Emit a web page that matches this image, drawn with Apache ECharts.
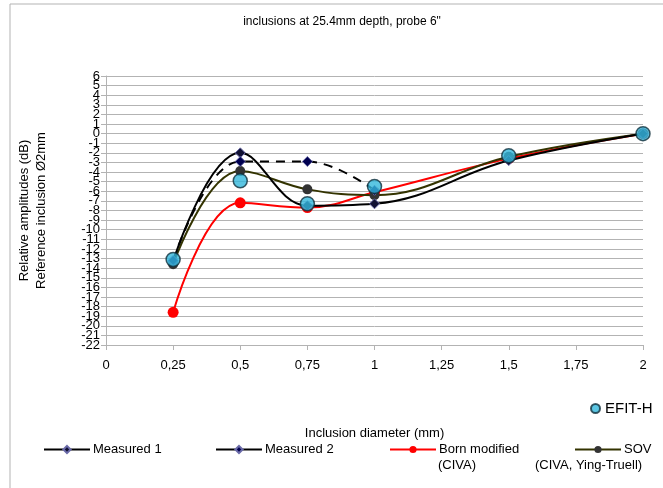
<!DOCTYPE html>
<html>

<head>
    <meta charset="utf-8">
    <script src="https://cdn.jsdelivr.net/npm/echarts@6/dist/echarts.min.js"></script>
</head>

<body style="margin:0">
    <div id="main" style="width: 663px;height:488px;"></div>

    <script type="text/javascript">
        // inclusion diameters (mm)
        var diam = [0.25, 0.5, 0.75, 1, 1.5, 2];
        var diamM2 = [0.25, 0.5, 0.75, 1];
        // relative amplitudes (dB)
        var measured1 = [-13.3, -2.0, -7.5, -7.3, -2.8, 0];
        var measured2 = [-13.2, -2.9, -2.9, -5.9];
        var bornModified = [-18.6, -7.2, -7.7, -6.1, -2.6, 0];
        var sov = [-13.6, -3.9, -5.8, -6.4, -2.4, 0];
        var efitH = [-13.1, -4.9, -7.3, -5.5, -2.3, 0];

        function pairs(xs, ys) {
            return xs.map(function (x, i) { return [x, ys[i]]; });
        }

        var font = 'Liberation Sans';
        var myChart = echarts.init(document.getElementById('main'));

        function legendAt(name, left) {
            return {
                data: [name],
                left: left,
                top: 438,
                itemWidth: 46,
                itemHeight: 9,
                lineStyle: { type: 'solid' },
                textStyle: { fontFamily: font, fontSize: 13, color: '#000', padding: [0, 0, 0, -2] }
            };
        }

        // labels every 1 dB overlap, so even and odd values go on two stacked axes
        function yLabels(even) {
            return function (v) {
                return (Math.abs(v) % 2 === 0) === even ? String(v) : '';
            };
        }

        var option = {
            backgroundColor: '#fff',
            animation: false,
            title: {
                text: 'inclusions at 25.4mm depth, probe 6"',
                left: 337,
                textAlign: 'center',
                top: 11,
                textStyle: { fontFamily: font, fontSize: 12, fontWeight: 'normal', color: '#000' }
            },
            graphic: [
                { type: 'rect', shape: { x: 10, y: 4, width: 700, height: 600 }, style: { fill: 'none', stroke: '#b3b3b3', lineWidth: 1 } },
                { type: 'text', left: 438, top: 459, style: { text: '(CIVA)', font: '13px "Liberation Sans"', fill: '#000' } },
                { type: 'text', left: 535, top: 459, style: { text: '(CIVA, Ying-Truell)', font: '13px "Liberation Sans"', fill: '#000' } }
            ],
            legend: [
                legendAt('Measured 1', 38),
                legendAt('Measured 2', 210),
                legendAt('Born modified', 384),
                legendAt('SOV', 569),
                {
                    data: ['EFIT-H'],
                    left: 585,
                    top: 396,
                    itemWidth: 9,
                    itemHeight: 9,
                    textStyle: { fontFamily: font, fontSize: 15, color: '#000' }
                }
            ],
            grid: { left: 106, right: 20, top: 76, bottom: 143 },
            xAxis: {
                type: 'value',
                min: 0,
                max: 2,
                interval: 0.25,
                name: 'Inclusion diameter (mm)',
                nameLocation: 'middle',
                nameGap: 82,
                nameTextStyle: { fontFamily: font, fontSize: 13, color: '#000' },
                axisLine: { onZero: false, lineStyle: { color: '#b3b3b3' } },
                axisTick: { length: 5, lineStyle: { color: '#b3b3b3' } },
                axisLabel: {
                    fontFamily: font, fontSize: 13, color: '#000', margin: 14,
                    formatter: function (v) { return String(v).replace('.', ','); }
                },
                splitLine: { show: false }
            },
            yAxis: [
                {
                    type: 'value',
                    min: -22,
                    max: 6,
                    interval: 1,
                    name: 'Relative amplitudes (dB)\nReference inclusion Ø2mm',
                    nameLocation: 'middle',
                    nameRotate: 90,
                    nameGap: 56,
                    nameTextStyle: { fontFamily: font, fontSize: 13, color: '#000', lineHeight: 17 },
                    axisLine: { show: true, onZero: false, lineStyle: { color: '#b3b3b3' } },
                    axisTick: { show: true, length: 5, lineStyle: { color: '#b3b3b3' } },
                    axisLabel: {
                        fontFamily: font, fontSize: 13, color: '#000', margin: 6,
                        showMinLabel: true, showMaxLabel: true, formatter: yLabels(true)
                    },
                    splitLine: { lineStyle: { color: '#b3b3b3' } }
                },
                {
                    type: 'value',
                    position: 'left',
                    min: -22,
                    max: 6,
                    interval: 1,
                    axisLine: { show: false, onZero: false },
                    axisTick: { show: false },
                    axisLabel: {
                        fontFamily: font, fontSize: 13, color: '#000', margin: 6,
                        showMinLabel: false, showMaxLabel: false, formatter: yLabels(false)
                    },
                    splitLine: { show: false }
                }
            ],
            series: [
                {
                    name: 'Measured 1', type: 'line', smooth: 0.4,
                    data: pairs(diam, measured1),
                    symbol: 'diamond', symbolSize: 10,
                    lineStyle: { color: '#000', width: 2 },
                    itemStyle: { color: '#111133', borderColor: '#6a6aa8', borderWidth: 1 },
                    z: 3
                },
                {
                    name: 'Measured 2', type: 'line', smooth: 0.4,
                    data: pairs(diamM2, measured2),
                    symbol: 'diamond', symbolSize: 10,
                    lineStyle: { color: '#000', width: 2, type: [9, 7] },
                    itemStyle: { color: '#000050', borderColor: '#6a6aa8', borderWidth: 1 },
                    z: 3
                },
                {
                    name: 'Born modified', type: 'line', smooth: 0.4,
                    data: pairs(diam, bornModified),
                    symbol: 'circle', symbolSize: 11,
                    lineStyle: { color: '#ff0000', width: 2 },
                    itemStyle: { color: '#ff0000' },
                    z: 2
                },
                {
                    name: 'SOV', type: 'line', smooth: 0.4,
                    data: pairs(diam, sov),
                    symbol: 'circle', symbolSize: 10,
                    lineStyle: { color: '#333300', width: 2 },
                    itemStyle: { color: '#333333' },
                    z: 2
                },
                {
                    name: 'EFIT-H', type: 'scatter',
                    data: pairs(diam, efitH),
                    symbol: 'circle', symbolSize: 14,
                    itemStyle: { color: '#33b8dc', borderColor: '#10303c', borderWidth: 1.5 },
                    z: 5
                }
            ]
        };
        myChart.setOption(option);
    </script>
</body>

</html>
